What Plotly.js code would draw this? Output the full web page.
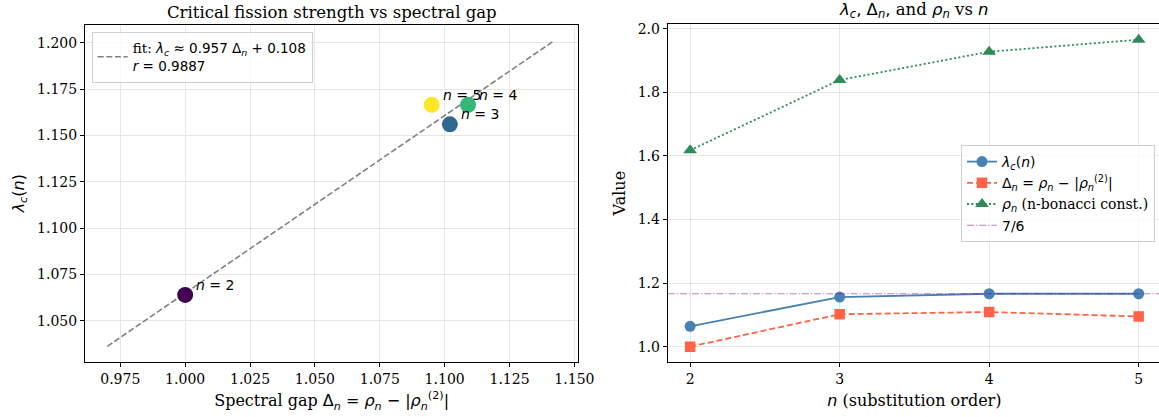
<!DOCTYPE html>
<html>
<head>
<meta charset="utf-8">
<script src="https://cdn.plot.ly/plotly-3.0.1.min.js"></script>
<style>
html, body { margin: 0; padding: 0; background: #fff; overflow: hidden; }
#chart { width: 1165px; height: 417px; }
</style>
</head>
<body>
<div id="chart"></div>
<script>
// ---- data ----
const nOrder = [2, 3, 4, 5];
const spectralGap = [1.000, 1.102, 1.109, 1.095];      // Δn
const lambdaC = [1.064, 1.156, 1.1665, 1.1665];         // λc(n)
const rhoN = [1.618, 1.839, 1.928, 1.966];              // ρn
const pointColors = ['#440154', '#31688e', '#35b779', '#fde725'];
const fitSlope = 0.957;
const fitIntercept = 0.108;
const fitR = 0.9887;
const refLevel = 7 / 6;
const pointLabels = nOrder.map(n => '<i>n</i> = ' + n);

const SANS = 'DejaVu Sans';
const SERIF = 'DejaVu Serif';
const serif = t => '<span style="font-family:' + SERIF + '">' + t + '</span>';
const sans = t => '<span style="font-family:' + SANS + '">' + t + '</span>';

// fit line endpoints derived from the data extent
const fitX = [Math.min(...spectralGap) * 0.97, Math.max(...spectralGap) * 1.03];
const fitY = fitX.map(x => fitSlope * x + fitIntercept);

const traces = [
  {
    x: fitX, y: fitY, xaxis: 'x', yaxis: 'y', mode: 'lines',
    line: { color: '#808080', width: 1.6, dash: '6px,2.6px' },
    name: serif('fit: ') + '<i>λ</i><sub><i>c</i></sub> ≈ ' + fitSlope.toFixed(3) + ' Δ<sub><i>n</i></sub> + ' + fitIntercept.toFixed(3) + '<br><i>r</i> = ' + fitR.toFixed(4),
    legend: 'legend', showlegend: true, hoverinfo: 'skip'
  },
  {
    x: spectralGap, y: lambdaC, xaxis: 'x', yaxis: 'y', mode: 'markers',
    marker: { color: pointColors, size: 16, line: { width: 0 } },
    showlegend: false
  },
  {
    x: nOrder, y: lambdaC, xaxis: 'x2', yaxis: 'y2', mode: 'lines+markers',
    line: { color: '#4682b4', width: 1.8 },
    marker: { color: '#4682b4', size: 11, symbol: 'circle' },
    name: '<i>λ</i><sub><i>c</i></sub>(<i>n</i>)', legend: 'legend2'
  },
  {
    x: nOrder, y: spectralGap, xaxis: 'x2', yaxis: 'y2', mode: 'lines+markers',
    line: { color: '#ff6347', width: 1.8, dash: '6px,3px' },
    marker: { color: '#ff6347', size: 10.5, symbol: 'square' },
    name: 'Δ<sub><i>n</i></sub> = <i>ρ</i><sub><i>n</i></sub> − |<i>ρ</i><sub><i>n</i></sub><sup>(2)</sup>|', legend: 'legend2'
  },
  {
    x: nOrder, y: rhoN, xaxis: 'x2', yaxis: 'y2', mode: 'lines+markers',
    line: { color: '#2e8b57', width: 1.8, dash: '2px,2.4px' },
    marker: { color: '#2e8b57', size: 12, symbol: 'triangle-up' },
    name: '<i>ρ</i><sub><i>n</i></sub> ' + serif('(n-bonacci const.)'), legend: 'legend2'
  }
];

const gridColor = '#e6e6e6';
const axisCommon = {
  showline: true, linecolor: '#000', linewidth: 1, mirror: true,
  ticks: 'outside', ticklen: 4, tickwidth: 1, tickcolor: '#000',
  showgrid: true, gridcolor: gridColor, gridwidth: 1, zeroline: false,
  tickfont: { family: SERIF, size: 14, color: '#000' }
};

const annotations = [
  {
    xref: 'x domain', yref: 'y domain', x: 0.5, y: 1, yanchor: 'bottom', yshift: 1,
    showarrow: false, text: 'Critical fission strength vs spectral gap',
    font: { family: SERIF, size: 16.5, color: '#000' }
  },
  {
    xref: 'x2 domain', yref: 'y2 domain', x: 0.5, y: 1, yanchor: 'bottom', yshift: 1,
    showarrow: false,
    text: sans('<i>λ</i><sub><i>c</i></sub>, Δ<sub><i>n</i></sub>,') + ' and ' + sans('<i>ρ</i><sub><i>n</i></sub>') + ' vs ' + sans('<i>n</i>'),
    font: { family: SERIF, size: 16.5, color: '#000' }
  }
];
spectralGap.forEach((g, i) => {
  annotations.push({
    xref: 'x', yref: 'y', x: g, y: lambdaC[i], text: pointLabels[i],
    showarrow: false, xanchor: 'left', yanchor: 'middle', xshift: 9, yshift: 10,
    font: { family: SANS, size: 14, color: '#000' }
  });
});

const layout = {
  width: 1165, height: 417,
  margin: { l: 0, r: 0, t: 0, b: 0 },
  paper_bgcolor: '#fff', plot_bgcolor: '#fff',
  font: { family: SERIF, size: 14, color: '#000' },
  xaxis: Object.assign({}, axisCommon, {
    anchor: 'y', domain: [85 / 1165, 578.3 / 1165], range: [0.9614, 1.1515],
    tick0: 0.975, dtick: 0.025, tickformat: '.3f',
    title: { text: 'Spectral gap ' + sans('Δ<sub><i>n</i></sub> = <i>ρ</i><sub><i>n</i></sub> − |<i>ρ</i><sub><i>n</i></sub><sup>(2)</sup>|'), font: { family: SERIF, size: 16 }, standoff: 9 }
  }),
  yaxis: Object.assign({}, axisCommon, {
    anchor: 'x', domain: [55.3 / 417, 392.3 / 417], range: [1.028, 1.2097],
    tick0: 1.05, dtick: 0.025, tickformat: '.3f',
    title: { text: '<i>λ</i><sub><i>c</i></sub>(<i>n</i>)', font: { family: SANS, size: 16 }, standoff: 8 }
  }),
  xaxis2: Object.assign({}, axisCommon, {
    anchor: 'y2', domain: [667.7 / 1165, 1161.1 / 1165], range: [1.85, 5.15],
    tick0: 0, dtick: 1,
    title: { text: sans('<i>n</i>') + ' (substitution order)', font: { family: SERIF, size: 16 }, standoff: 9 }
  }),
  yaxis2: Object.assign({}, axisCommon, {
    anchor: 'x2', domain: [55 / 417, 392.7 / 417], range: [0.9517, 2.0143],
    tick0: 0, dtick: 0.2, tickformat: '.1f',
    title: { text: 'Value', font: { family: SERIF, size: 16 }, standoff: 8 }
  }),
  legend: {
    x: 91.7 / 1165, y: 1 - 31.7 / 417, xanchor: 'left', yanchor: 'top',
    bgcolor: 'rgba(255,255,255,0.8)', bordercolor: '#d0d0d0', borderwidth: 1,
    font: { family: SANS, size: 13.5, color: '#000' }, valign: 'middle'
  },
  legend2: {
    x: 961 / 1165, y: 1 - 145 / 417, xanchor: 'left', yanchor: 'top',
    bgcolor: 'rgba(255,255,255,0.8)', bordercolor: '#d0d0d0', borderwidth: 1,
    font: { family: SANS, size: 14, color: '#000' }, traceorder: 'normal',
    tracegroupgap: 0
  },
  annotations: annotations,
  shapes: [{
    type: 'line', xref: 'x2 domain', x0: 0, x1: 1, yref: 'y2', y0: refLevel, y1: refLevel,
    line: { color: 'rgba(128,0,128,0.5)', width: 1.1, dash: '7px,2px,1.2px,2px' },
    layer: 'above', showlegend: true, name: '7/6', legend: 'legend2'
  }],
  showlegend: true
};

Plotly.newPlot('chart', traces, layout, { displayModeBar: false, staticPlot: true });
</script>
</body>
</html>
